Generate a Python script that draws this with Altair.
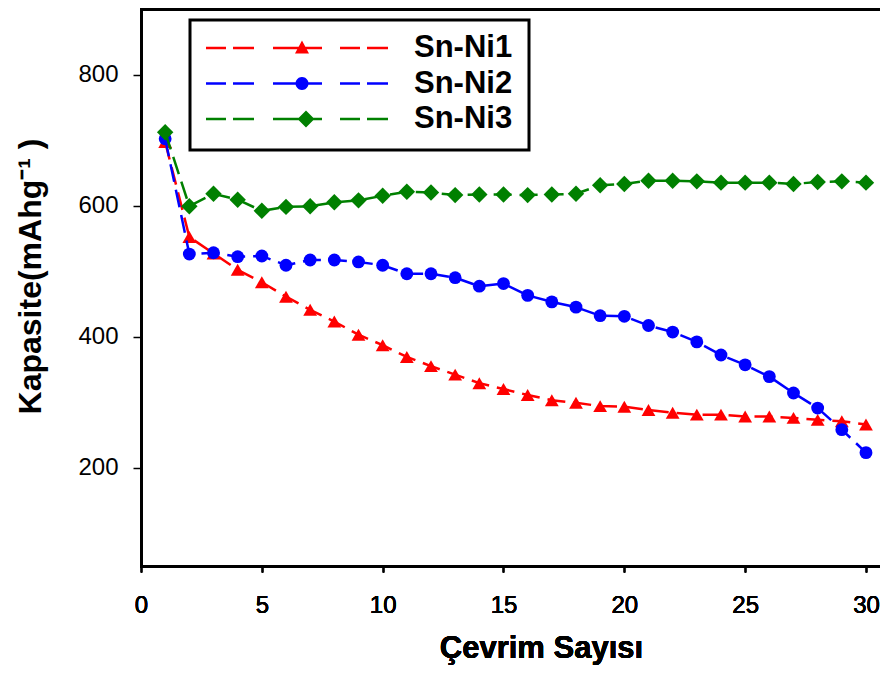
import math
import altair as alt
import pandas as pd

# ---------------- data ----------------
cycles = list(range(1, 31))
sn_ni1 = [697, 552, 527, 502, 483, 461, 441, 423, 403, 387, 369, 355, 342, 329, 320,
          311, 303, 299, 294, 293, 288, 284, 281, 281, 278, 278, 276, 273, 271, 266]
sn_ni2 = [702, 526, 528, 522, 523, 509, 517, 517, 514, 509, 496, 496, 490, 477, 481,
          463, 453, 445, 432, 431, 417, 407, 392, 372, 357, 339, 314, 291, 258, 223]
sn_ni3 = [712, 599, 618, 609, 592, 598, 599, 605, 608, 615, 621, 620, 616, 617, 617,
          616, 617, 618, 631, 633, 638, 638, 637, 635, 635, 635, 633, 636, 637, 635]

series_names = ["Sn-Ni1", "Sn-Ni2", "Sn-Ni3"]
series_colors = ["#ff0000", "#0000ff", "#008000"]
marker_shapes = ["triangle-up", "circle", "diamond"]
marker_sizes = [190, 165, 270]
x_ticks = [0, 5, 10, 15, 20, 25, 30]
y_ticks = [200, 400, 600, 800]
x_title = "Çevrim Sayısı"
y_title = "Kapasite(mAhg⁻¹ )"

rows = []
for name, vals in zip(series_names, [sn_ni1, sn_ni2, sn_ni3]):
    for c, v in zip(cycles, vals):
        rows.append({"series": name, "cycle": c, "capacity": v})
df = pd.DataFrame(rows)

# ---------------- legend symbols: dashed line + marker (custom SVG paths) ----------------
R = 91.0  # half width of legend symbol in px


def f(v):
    return f"{v / R:.4f}"


def rect(x0, x1, h=1.3):
    return f"M{f(x0)},{f(-h)}L{f(x1)},{f(-h)}L{f(x1)},{f(h)}L{f(x0)},{f(h)}Z"


dash_path = "".join(rect(a, b) for a, b in [(-91, -71), (-64, -43), (-24, 25), (43, 63), (70, 91)])
tri_path = f"M{f(5)},{f(-7.5)}L{f(12)},{f(5.5)}L{f(-2)},{f(5.5)}Z"
circ_pts = [(5 + 6.5 * math.cos(2 * math.pi * k / 24), 6.5 * math.sin(2 * math.pi * k / 24)) for k in range(24)]
circ_path = "M" + "L".join(f"{f(px)},{f(py)}" for px, py in circ_pts) + "Z"
dia_path = f"M{f(0.5)},0L{f(9)},{f(-8.5)}L{f(17.5)},0L{f(9)},{f(8.5)}Z"
legend_paths = [dash_path + tri_path, dash_path + circ_path, dash_path + dia_path]
legend_symbol_size = (2 * R) ** 2

# ---------------- axes ----------------
x_scale = alt.Scale(domain=[0, 30.58], nice=False, zero=False)
y_scale = alt.Scale(domain=[50, 900], nice=False, zero=False)

x_enc = alt.X(
    "cycle:Q",
    scale=x_scale,
    axis=alt.Axis(
        orient="bottom",
        values=x_ticks, domain=True, domainColor="black", domainWidth=3, domainCap="square",
        grid=False, tickSize=6, tickWidth=1.5, tickColor="black",
        labelFont="Liberation Sans", labelFontSize=24, labelColor="black", labelPadding=21,
        labelFlush=False, format="d",
        title=x_title, titleFont="Liberation Sans", titleFontSize=31, titleFontWeight="bold",
        titleColor="black", titleX=400, titleY=91, titleBaseline="alphabetic", titleAlign="center",
    ),
)
y_enc = alt.Y(
    "capacity:Q",
    scale=y_scale,
    axis=alt.Axis(
        values=y_ticks, domain=True, domainColor="black", domainWidth=3, domainCap="square",
        grid=False, tickSize=8, tickWidth=1.5, tickColor="black",
        labelFont="Liberation Sans", labelFontSize=24, labelColor="black", labelPadding=15,
        labelFlush=False, format="d",
        title=y_title, titleFont="Liberation Sans", titleFontSize=32, titleFontWeight="bold",
        titleColor="black", titleAngle=270, titleX=-101, titleY=267, titleBaseline="alphabetic",
        titleAlign="center",
    ),
)

base = alt.Chart(df)
layers = []
for name, col, shp, sz in zip(series_names, series_colors, marker_shapes, marker_sizes):
    sub = base.transform_filter(alt.datum.series == name)
    layers.append(
        sub.mark_line(color=col, strokeWidth=2.5, strokeDash=[18, 8]).encode(x=x_enc, y=y_enc)
    )
    layers.append(
        sub.mark_point(shape=shp, filled=True, size=sz, color=col, opacity=1).encode(x=x_enc, y=y_enc)
    )

# top frame line (an axis with only its domain line)
top_frame = (
    base.transform_filter("datum.cycle < 0")
    .mark_point(opacity=0)
    .encode(
        x=alt.X(
            "cycle:Q", scale=x_scale,
            axis=alt.Axis(orient="top", domain=True, domainColor="black", domainWidth=3,
                          domainCap="square", ticks=False, labels=False, grid=False, title=None),
        )
    )
)
layers.append(top_frame)

legend_def = alt.Legend(
    title=None, orient="none", legendX=49, legendY=11, direction="vertical",
    fillColor="white", strokeColor="black", padding=16, rowPadding=4.5, clipHeight=24,
    labelFont="Liberation Sans", labelFontSize=31, labelFontWeight="bold", labelColor="black",
    labelOffset=26, symbolSize=legend_symbol_size, symbolStrokeWidth=0, symbolOpacity=1,
    symbolOffset=0, labelLimit=400,
)

legend_layer = (
    base.transform_filter("datum.cycle < 0")
    .mark_point(filled=True, opacity=1, size=legend_symbol_size)
    .encode(
        color=alt.Color("series:N", scale=alt.Scale(domain=series_names, range=series_colors), legend=legend_def),
        shape=alt.Shape("series:N", scale=alt.Scale(domain=series_names, range=legend_paths), legend=legend_def),
    )
)
layers.append(legend_layer)

chart = (
    alt.layer(*layers)
    .resolve_axis(x="independent")
    .properties(
        width=739, height=557,
        padding={"left": 133, "top": 1, "right": 0, "bottom": 99},
        autosize=alt.AutoSizeParams(type="none"),
        background="white",
    )
    .configure_view(stroke=None)
    .configure_legend(strokeWidth=3)
)

chart.save("out.html", embed_options={"renderer": "svg", "actions": False})
